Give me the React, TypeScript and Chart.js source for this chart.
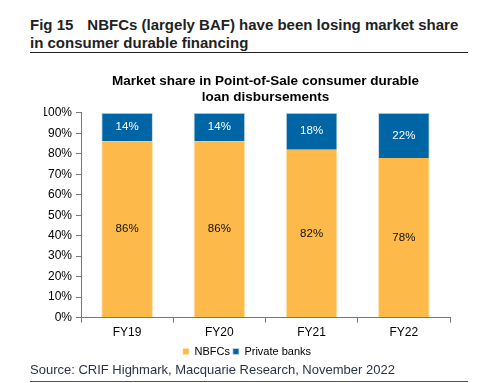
import React, { useEffect, useRef } from "react";
import { Chart, registerables } from "chart.js";

Chart.register(...registerables);

const categories = ["FY19", "FY20", "FY21", "FY22"];
const nbfcs = [86, 86, 82, 78];
const privateBanks = [14, 14, 18, 22];
const yTicks = [0, 10, 20, 30, 40, 50, 60, 70, 80, 90, 100];

const ORANGE = "#FDB949";
const BLUE = "#0065A5";
const FONT = "'Liberation Sans', Arial, sans-serif";

const labelPlugin = {
  id: "segLabels",
  afterDatasetsDraw(chart: any) {
    const ctx = chart.ctx;
    ctx.save();
    ctx.font = "11.5px " + FONT;
    ctx.textAlign = "center";
    ctx.textBaseline = "middle";
    chart.data.datasets.forEach((ds: any, di: number) => {
      const meta = chart.getDatasetMeta(di);
      meta.data.forEach((bar: any, i: number) => {
        const y = (bar.y + bar.base) / 2;
        ctx.fillStyle = di === 0 ? "#111" : "#ffffff";
        ctx.fillText(ds.data[i] + "%", bar.x, y);
      });
    });
    ctx.restore();
  },
};

export default function App() {
  const ref = useRef<HTMLCanvasElement>(null);
  useEffect(() => {
    const chart = new Chart(ref.current!, {
      type: "bar",
      data: {
        labels: categories,
        datasets: [
          {
            label: "NBFCs",
            data: nbfcs,
            backgroundColor: ORANGE,
            borderColor: "#FDE2B0",
            borderWidth: { left: 1, right: 1, top: 0, bottom: 0 } as any,
            barPercentage: 0.56,
            categoryPercentage: 1,
          },
          {
            label: "Private banks",
            data: privateBanks,
            backgroundColor: BLUE,
            borderColor: "#C8D8E8",
            borderWidth: { left: 1, right: 1, top: 1, bottom: 0 } as any,
            barPercentage: 0.56,
            categoryPercentage: 1,
          },
        ],
      },
      options: {
        animation: false,
        responsive: false,
        maintainAspectRatio: false,
        layout: { padding: { left: 44, right: 28, top: 11, bottom: 4 } },
        plugins: {
          title: {
            display: true,
            fullSize: false,
            text: ["Market share in Point-of-Sale consumer durable", "loan disbursements"],
            color: "#000",
            font: { family: FONT, size: 13.5, weight: "bold", lineHeight: 1.18 },
            padding: { top: 4, bottom: 8 },
          },
          legend: {
            position: "bottom",
            labels: {
              boxWidth: 6,
              boxHeight: 6,
              padding: 3,
              color: "#000",
              font: { family: FONT, size: 11 },
            },
          },
          tooltip: { enabled: false },
        },
        scales: {
          x: {
            stacked: true,
            grid: { display: true, drawOnChartArea: false, drawTicks: true, tickLength: 5, color: "#777" },
            border: { display: true, color: "#777" },
            ticks: { color: "#000", padding: 3, font: { family: FONT, size: 12 } },
          },
          y: {
            stacked: true,
            min: 0,
            max: 100,
            afterFit(scale: any) {
              scale.width = 37;
            },
            afterBuildTicks(scale: any) {
              scale.ticks = yTicks.map((v) => ({ value: v }));
            },
            grid: { display: true, drawOnChartArea: false, drawTicks: true, tickLength: 5, color: "#777" },
            border: { display: true, color: "#777" },
            ticks: {
              color: "#000",
              padding: 4,
              font: { family: FONT, size: 12 },
              callback: (v: any) => v + "%",
            },
          },
        },
      },
      plugins: [labelPlugin],
    });
    return () => chart.destroy();
  }, []);

  return (
    <div
      style={{
        position: "absolute",
        top: 0,
        left: 0,
        width: 478,
        height: 383,
        overflow: "hidden",
        background: "#fff",
        fontFamily: FONT,
      }}
    >
      <div
        style={{
          position: "absolute",
          left: 30,
          top: 16,
          width: 440,
          fontSize: 15,
          fontWeight: "bold",
          lineHeight: "18px",
          color: "#222",
        }}
      >
        <span style={{ marginRight: 14 }}>Fig 15</span>NBFCs (largely BAF) have been losing market share
        <br />
        in consumer durable financing
      </div>
      <div style={{ position: "absolute", left: 30, top: 52, width: 438, height: 1, background: "#222" }} />
      <canvas
        ref={ref}
        width={478}
        height={313}
        style={{ position: "absolute", left: 0, top: 58, width: 478, height: 313 }}
      />
      <div
        style={{
          position: "absolute",
          left: 30,
          top: 362,
          fontSize: 13,
          color: "#2b3346",
          whiteSpace: "nowrap",
        }}
      >
        Source: CRIF Highmark, Macquarie Research, November 2022
      </div>
      <div style={{ position: "absolute", left: 30, top: 381, width: 438, height: 1, background: "#555" }} />
    </div>
  );
}
